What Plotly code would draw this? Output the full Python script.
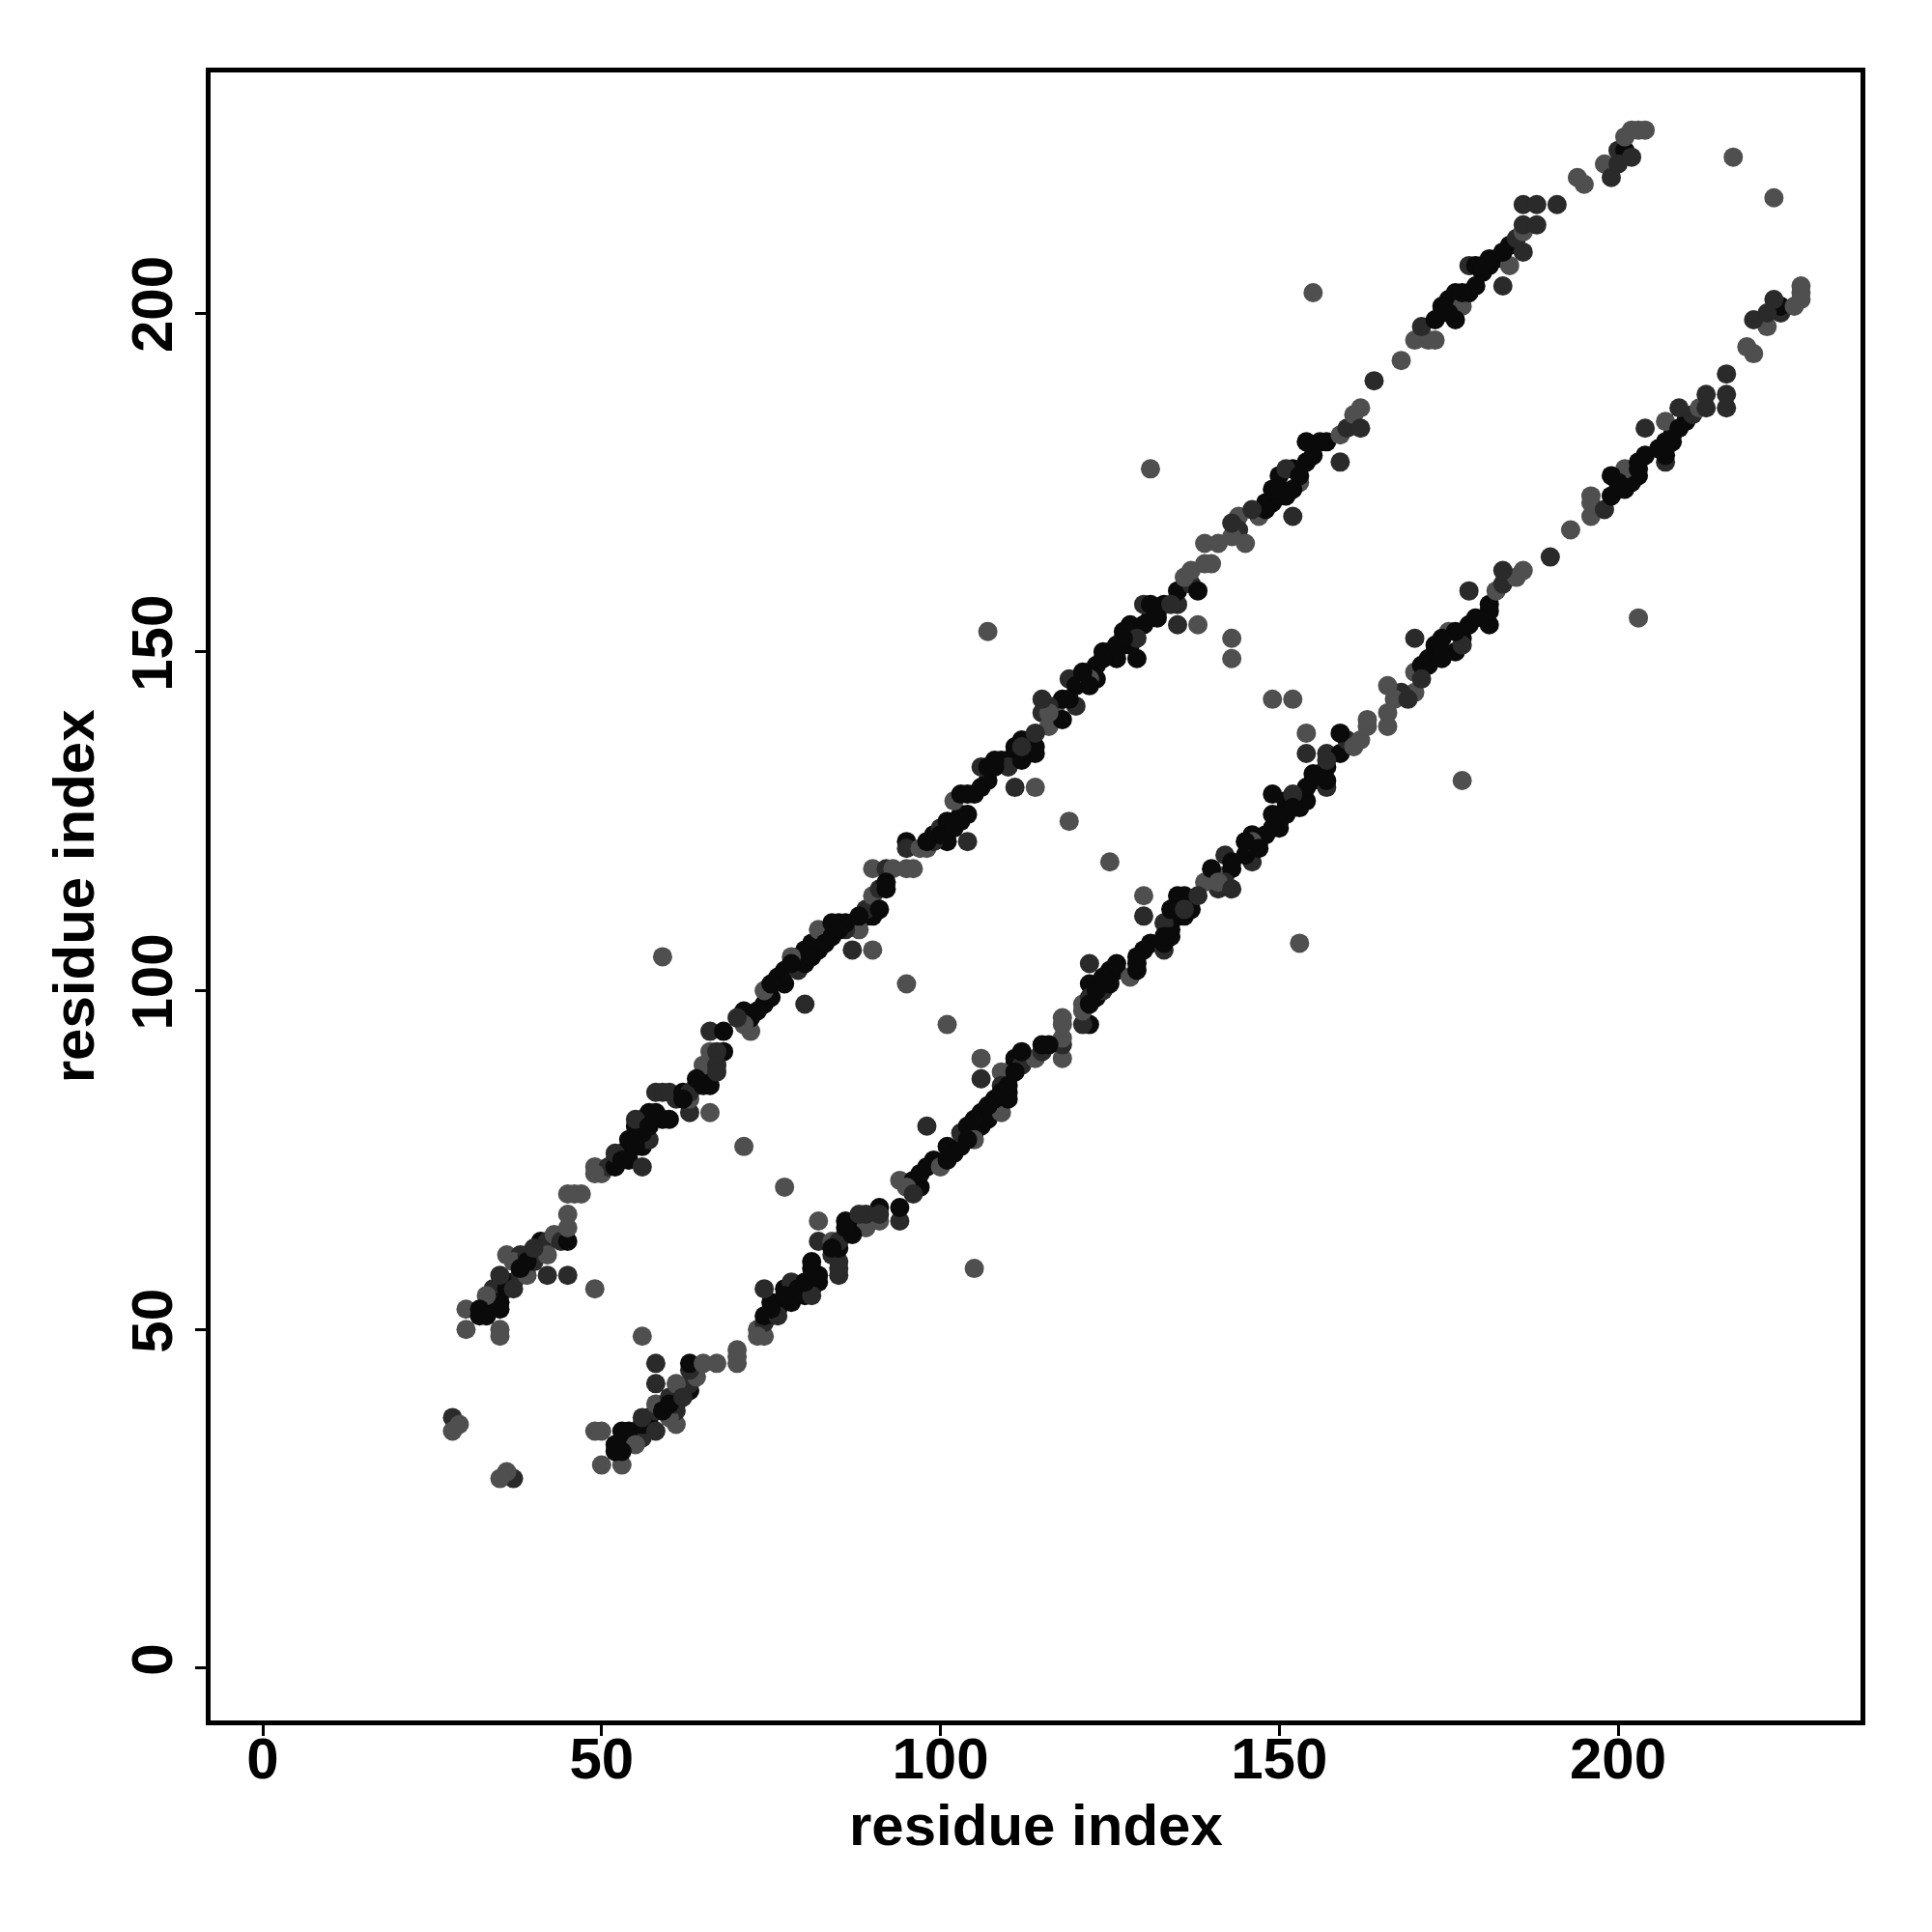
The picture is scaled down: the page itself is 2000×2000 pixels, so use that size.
import plotly.graph_objects as go

# the map is symmetric, so every pair is also drawn as (j, i).
res_i = [
    28, 29, 28,
    30, 30, 35, 35,
    32, 33, 33, 34, 34, 34, 35, 35, 36, 36, 37, 37, 38, 39, 35, 33,
    36, 38, 40, 41, 37, 39, 42, 45,
    41, 42, 43, 44, 45, 42, 45, 45, 45, 46, 47, 49,
    49, 50, 51, 52, 49, 52, 53, 54, 55, 56, 57, 52, 54, 55, 56, 56,
    56, 57, 58, 59, 60, 55, 58, 59, 60, 63, 66,
    61, 62, 64, 65, 66, 63, 65, 63, 64, 59, 71,
    66, 68, 66, 68, 67, 67, 72, 71, 72, 74, 75, 77, 71, 70, 73, 80,
    74, 76, 77, 79, 79, 80, 82, 80, 78, 81, 82,
    84, 85, 87, 89, 90, 88, 84, 86, 87, 90, 89, 90, 91, 92, 91,
    90, 92, 93, 95, 96, 92, 95, 95, 95, 97, 98,
    99, 100, 101, 102, 103, 103, 101, 99, 100, 104,
    102, 103, 104, 105, 106, 107, 111, 114, 106, 107, 109, 110, 111, 112, 113, 114, 110, 119,
    115, 117, 116, 118, 120, 118, 119, 120, 122, 123, 111, 112, 114, 112, 114, 116, 116, 115, 119, 121,
    123, 124, 125, 127, 128, 122, 126, 129, 127, 128, 130, 131, 129,
    130, 131, 133, 135, 135, 138, 135, 137, 138, 136, 137, 139, 140, 139, 141, 143, 143, 131, 107,
    144, 144, 143, 143, 145, 147, 148, 149, 150, 151, 148, 152, 149, 150, 152, 153, 154, 155, 151,
    154, 156, 157, 159, 159, 160, 161, 162, 162, 164, 168, 155,
    170, 172, 173, 171, 173, 174, 175, 176, 177, 176, 178, 179,
    178, 179, 181, 182, 180, 184, 183, 184, 185, 186, 186, 186, 188, 186, 188, 191,
    194, 195, 198, 199, 200, 201, 202, 200, 201, 203, 204, 202, 217,
    32, 38, 39, 40, 53, 55, 57, 62, 65, 67, 75, 78, 81, 83, 86, 88, 85, 98, 102, 104,
    108, 112, 108, 121, 122, 124, 126, 127, 132, 134, 132, 146, 150, 153, 152, 174, 175, 177,
    180, 181, 183,
]
res_j = [
    37, 36, 35,
    53, 50, 50, 49,
    52, 53, 52, 54, 55, 56, 54, 53, 56, 57, 57, 56, 58, 58, 58, 55,
    61, 61, 60, 62, 60, 61, 58, 58,
    63, 63, 64, 63, 63, 61, 65, 67, 70, 70, 70, 56,
    74, 73, 74, 75, 73, 74, 76, 78, 80, 77, 78, 76, 75, 78, 79, 74,
    81, 82, 82, 81, 81, 81, 85, 85, 85, 82, 82,
    84, 85, 86, 87, 86, 84, 89, 85, 87, 105, 77,
    94, 94, 91, 91, 91, 89, 94, 97, 96, 98, 99, 101, 95, 96, 97, 98,
    100, 102, 103, 105, 103, 106, 106, 104, 105, 107, 109,
    108, 110, 110, 111, 111, 109, 110, 109, 106, 106, 112, 114, 115, 115, 112,
    118, 118, 118, 118, 118, 116, 101, 122, 121, 121, 121,
    123, 124, 122, 125, 126, 125, 125, 122, 123, 122,
    128, 129, 129, 129, 130, 131, 130, 130, 133, 133, 134, 134, 135, 135, 135, 136, 133, 125,
    141, 142, 139, 140, 142, 143, 146, 145, 147, 146, 136, 137, 135, 134, 138, 142, 141, 143, 143, 146,
    148, 150, 150, 151, 151, 146, 149, 149, 153, 154, 154, 155, 152,
    157, 157, 157, 157, 154, 154, 159, 160, 159, 161, 162, 163, 163, 166, 166, 152, 149, 177, 153,
    170, 168, 167, 169, 166, 170, 172, 172, 173, 173, 171, 170, 174, 176, 177, 175, 178, 179, 177,
    181, 181, 181, 178, 182, 183, 185, 186, 183, 190, 193, 203,
    196, 196, 196, 198, 199, 200, 202, 203, 201, 199, 203, 204,
    207, 207, 207, 208, 206, 207, 204, 210, 211, 212, 209, 213, 213, 216, 216, 216,
    220, 219, 222, 220, 224, 224, 223, 222, 226, 227, 227, 227, 223,
    53, 59, 60, 62, 75, 77, 80, 84, 86, 88, 101, 104, 105, 107, 110, 111, 109, 122, 124, 126,
    134, 136, 133, 147, 145, 149, 151, 152, 156, 157, 155, 171, 174, 176, 174, 201, 200, 203,
    207, 208, 209,
]
# contact confidence level (3 = high, 2 = medium, 1 = low)
level = [
    2, 1, 1,
    1, 1, 1, 1,
    3, 3, 3, 3, 3, 2, 3, 3, 3, 3, 3, 2, 2, 1, 2, 1,
    1, 2, 2, 3, 1, 2, 2, 2,
    3, 2, 1, 2, 3, 1, 1, 1, 1, 1, 1, 1,
    1, 1, 2, 2, 1, 3, 3, 3, 3, 3, 2, 2, 3, 3, 3, 2,
    3, 3, 3, 3, 3, 2, 2, 2, 2, 2, 1,
    2, 3, 3, 3, 3, 1, 1, 2, 3, 1, 1,
    2, 3, 1, 3, 2, 2, 1, 3, 3, 3, 3, 3, 1, 2, 3, 2,
    1, 3, 3, 3, 2, 3, 3, 3, 1, 3, 1,
    3, 3, 3, 3, 3, 1, 3, 2, 2, 1, 2, 1, 2, 3, 3,
    1, 2, 1, 1, 1, 3, 1, 3, 2, 1, 1,
    3, 2, 3, 3, 3, 3, 3, 2, 3, 2,
    1, 3, 3, 3, 3, 3, 2, 1, 2, 3, 3, 3, 3, 3, 3, 3, 2, 1,
    2, 1, 1, 3, 2, 3, 2, 3, 3, 3, 3, 3, 3, 3, 2, 2, 1, 2, 3, 3,
    3, 3, 3, 3, 3, 1, 3, 3, 3, 3, 3, 3, 2,
    2, 3, 3, 2, 2, 1, 3, 2, 3, 1, 1, 1, 1, 1, 1, 1, 1, 1, 1,
    1, 2, 1, 2, 1, 1, 3, 3, 3, 3, 3, 2, 3, 3, 3, 1, 3, 3, 2,
    3, 3, 3, 2, 1, 2, 1, 1, 2, 2, 1, 1,
    1, 1, 1, 2, 3, 3, 3, 3, 1, 3, 3, 3,
    2, 3, 3, 3, 3, 1, 2, 3, 2, 1, 2, 2, 2, 2, 2, 2,
    1, 1, 1, 2, 2, 3, 2, 2, 1, 1, 1, 1, 1,
    3, 3, 3, 2, 3, 3, 3, 3, 3, 2, 3, 3, 3, 3, 3, 3, 3, 3, 3, 3,
    3, 2, 3, 3, 3, 3, 3, 3, 3, 2, 3, 2, 3, 3, 3, 3, 3, 3,
    3, 3, 3,
]
assert len(res_i) == len(res_j) == len(level)

tick_values = [0, 50, 100, 150, 200]
axis_label = "residue index"

# ---- styling ----
level_colors = {3: "#0a0a0a", 2: "#2a2a2a", 1: "#4f4f4f"}
colors = [level_colors[v] for v in level]

xs = res_i + res_j
ys = res_j + res_i
cs = colors + colors

font_family = "Liberation Sans, Arial, Helvetica, sans-serif"

fig = go.Figure()
fig.add_trace(go.Scatter(
    x=xs, y=ys, mode="markers",
    marker=dict(size=20, color=cs, line=dict(width=0)),
    hoverinfo="x+y", showlegend=False,
))

axis_common = dict(
    tickvals=tick_values,
    ticktext=[str(v) for v in tick_values],
    showgrid=False, zeroline=False,
    showline=True, linecolor="black", linewidth=4.5, mirror=True,
    ticks="outside", ticklen=11, tickwidth=3, tickcolor="black",
    tickfont=dict(family=font_family, size=60, color="black", weight="bold"),
)

fig.update_layout(
    width=2000, height=2000,
    margin=dict(l=218, r=74, t=75, b=219),
    paper_bgcolor="white", plot_bgcolor="white",
    xaxis=dict(**axis_common, range=[-7.70, 235.78], ticklabelstandoff=-28),
    yaxis=dict(**axis_common, range=[-7.70, 235.50], tickangle=-90),
    annotations=[
        dict(text=axis_label, xref="paper", yref="paper", x=0.5, y=-0.0637,
             xanchor="center", yanchor="middle", showarrow=False,
             font=dict(family=font_family, size=60, color="black", weight="bold")),
        dict(text=axis_label, xref="paper", yref="paper", x=-0.083, y=0.5,
             xanchor="center", yanchor="middle", textangle=-90, showarrow=False,
             font=dict(family=font_family, size=60, color="black", weight="bold")),
    ],
)

fig.write_html("out.html", config={"displayModeBar": False},
               post_script="document.body.style.margin='0';")
